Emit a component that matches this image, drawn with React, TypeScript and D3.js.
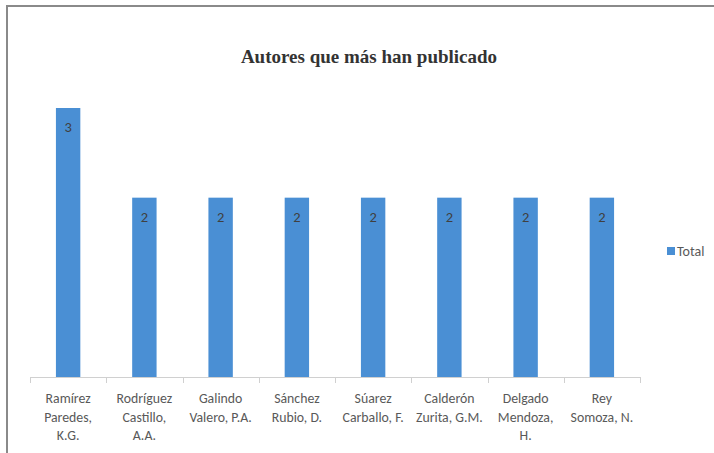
import React, { useEffect, useRef } from 'react';
import * as d3 from 'd3';

// Autores y número de publicaciones
const authors: string[][] = [
  ['Ramírez', 'Paredes,', 'K.G.'],
  ['Rodríguez', 'Castillo,', 'A.A.'],
  ['Galindo', 'Valero, P.A.'],
  ['Sánchez', 'Rubio, D.'],
  ['Súarez', 'Carballo, F.'],
  ['Calderón', 'Zurita, G.M.'],
  ['Delgado', 'Mendoza,', 'H.'],
  ['Rey', 'Somoza, N.'],
];
const totals: number[] = [3, 2, 2, 2, 2, 2, 2, 2];
const seriesName = 'Total';
const title = 'Autores que más han publicado';

const App = () => {
  const svgRef = useRef<SVGSVGElement | null>(null);

  useEffect(() => {
    const width = 714;
    const height = 453;
    const plot = { left: 30, right: 640, top: 108, bottom: 377 };
    const labelFont = "Carlito, 'Liberation Sans', Arial, sans-serif";

    const svg = d3.select(svgRef.current);
    svg.selectAll('*').remove();

    svg.append('rect')
      .attr('width', width)
      .attr('height', height)
      .attr('fill', '#fff');

    // chart frame (cut off at right and bottom)
    svg.append('rect')
      .attr('x', 7)
      .attr('y', 6)
      .attr('width', 800)
      .attr('height', 600)
      .attr('fill', 'none')
      .attr('stroke', '#8a8a8a')
      .attr('stroke-width', 2);

    svg.append('text')
      .attr('x', 369)
      .attr('y', 63)
      .attr('text-anchor', 'middle')
      .attr('font-family', "'Liberation Serif', 'Times New Roman', serif")
      .attr('font-weight', 'bold')
      .attr('font-size', 19)
      .attr('fill', '#333')
      .text(title);

    const keys = authors.map((_, i) => String(i));
    const x = d3.scaleBand()
      .domain(keys)
      .range([plot.left, plot.right])
      .paddingInner(0.68)
      .paddingOuter(0.34);

    const band = d3.scaleBand()
      .domain(keys)
      .range([plot.left, plot.right]);

    const y = d3.scaleLinear()
      .domain([0, 3])
      .range([plot.bottom, plot.top]);

    // bars
    svg.selectAll('.bar')
      .data(totals)
      .enter()
      .append('rect')
      .attr('class', 'bar')
      .attr('x', (_, i) => x(String(i))!)
      .attr('y', d => y(d))
      .attr('width', x.bandwidth())
      .attr('height', d => plot.bottom - y(d))
      .attr('fill', '#4a8fd4');

    // data labels
    svg.selectAll('.val')
      .data(totals)
      .enter()
      .append('text')
      .attr('class', 'val')
      .attr('x', (_, i) => x(String(i))! + x.bandwidth() / 2)
      .attr('y', d => y(d) + 24)
      .attr('text-anchor', 'middle')
      .attr('font-family', labelFont)
      .attr('font-size', 14.5)
      .attr('fill', '#404040')
      .text(d => d);

    // x axis
    const axis = svg.append('g');
    axis.append('line')
      .attr('x1', plot.left)
      .attr('x2', plot.right)
      .attr('y1', plot.bottom + 0.5)
      .attr('y2', plot.bottom + 0.5)
      .attr('stroke', '#d0d0d0');

    const tickPos = keys.map(k => band(k)!).concat([plot.right]);
    axis.selectAll('.tick')
      .data(tickPos)
      .enter()
      .append('line')
      .attr('x1', d => Math.round(d) + 0.5)
      .attr('x2', d => Math.round(d) + 0.5)
      .attr('y1', plot.bottom)
      .attr('y2', plot.bottom + 6)
      .attr('stroke', '#d0d0d0');

    const labels = axis.selectAll('.cat')
      .data(authors)
      .enter()
      .append('text')
      .attr('class', 'cat')
      .attr('text-anchor', 'middle')
      .attr('font-family', labelFont)
      .attr('font-size', 13.8)
      .attr('fill', '#595959');

    labels.each(function (lines, i) {
      const cx = band(String(i))! + band.bandwidth() / 2;
      d3.select(this)
        .selectAll('tspan')
        .data(lines)
        .enter()
        .append('tspan')
        .attr('x', cx)
        .attr('y', (_, j) => 403 + j * 18.5)
        .text(l => l);
    });

    // legend
    svg.append('rect')
      .attr('x', 667)
      .attr('y', 247)
      .attr('width', 8)
      .attr('height', 8)
      .attr('fill', '#4a8fd4');

    svg.append('text')
      .attr('x', 677)
      .attr('y', 256)
      .attr('font-family', labelFont)
      .attr('font-size', 14)
      .attr('fill', '#595959')
      .text(seriesName);
  }, []);

  return (
    <svg
      ref={svgRef}
      width={714}
      height={453}
      style={{ position: 'absolute', left: 0, top: 0 }}
    />
  );
};

export default App;
